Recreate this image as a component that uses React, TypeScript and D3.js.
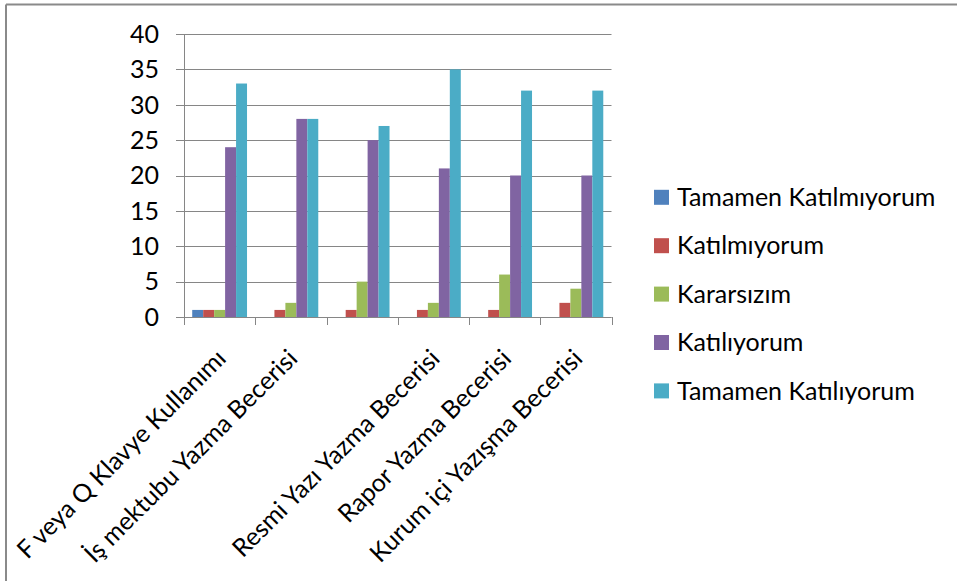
import React from "react";
import * as d3 from "d3";

const categories = [
  "F veya Q Klavye Kullanımı",
  "İş mektubu Yazma Becerisi",
  "",
  "Resmi Yazı Yazma Becerisi",
  "Rapor Yazma Becerisi",
  "Kurum içi Yazışma Becerisi",
];
const seriesNames = [
  "Tamamen Katılmıyorum",
  "Katılmıyorum",
  "Kararsızım",
  "Katılıyorum",
  "Tamamen Katılıyorum",
];
const seriesColors = ["#4F81BD", "#C0504D", "#9BBB59", "#8064A2", "#4BACC6"];
const tamamenKatilmiyorum = [1, 0, 0, 0, 0, 0];
const katilmiyorum = [1, 1, 1, 1, 1, 2];
const kararsizim = [1, 2, 5, 2, 6, 4];
const katiliyorum = [24, 28, 25, 21, 20, 20];
const tamamenKatiliyorum = [33, 28, 27, 35, 32, 32];
const seriesValues = [tamamenKatilmiyorum, katilmiyorum, kararsizim, katiliyorum, tamamenKatiliyorum];
const yTicks = [0, 5, 10, 15, 20, 25, 30, 35, 40];

const W = 957;
const H = 581;
const FONT = "Lato, 'Open Sans', sans-serif";
const FS = 25;

export default function App() {
  const plotL = 184, plotR = 611.5, plotT = 34, plotB = 317;
  const x0 = d3.scaleBand<string>().domain(categories.map((_, i) => String(i))).range([plotL, plotR]).padding(0);
  const x1 = d3.scaleBand<string>().domain(seriesNames).range([0, x0.bandwidth()]).paddingInner(0).paddingOuter(0.75);
  const y = d3.scaleLinear().domain([0, 40]).range([plotB, plotT]);
  const grid = "#868686";
  const boundaries = d3.range(categories.length + 1).map((i) => plotL + i * x0.step());

  return (
    <div style={{ position: "absolute", left: 0, top: 0 }}>
      <svg width={W} height={H} style={{ display: "block", background: "#fff" }}>
        <rect x={0} y={0} width={W} height={H} fill="#fff" />
        {/* outer border */}
        <line x1={6} y1={4.5} x2={W} y2={4.5} stroke="#8a8a8a" strokeWidth={2} />
        <line x1={6} y1={4.5} x2={6} y2={H} stroke="#8a8a8a" strokeWidth={2} />
        {/* gridlines */}
        {yTicks.map((t) => (
          <line key={"g" + t} x1={plotL - 8} x2={plotR} y1={Math.round(y(t)) + 0.5} y2={Math.round(y(t)) + 0.5} stroke={grid} strokeWidth={1} />
        ))}
        {/* y tick labels */}
        {yTicks.map((t) => (
          <text key={"yl" + t} x={159} y={y(t)} dy="0.35em" textAnchor="end" fontFamily={FONT} fontSize={FS} fill="#000">
            {t}
          </text>
        ))}
        {/* bars */}
        {categories.map((c, ci) => (
          <g key={"c" + ci} transform={`translate(${x0(String(ci))},0)`}>
            {seriesNames.map((s, si) => {
              const v = seriesValues[si][ci];
              if (!v) return null;
              return (
                <rect key={s} x={x1(s)} y={y(v)} width={x1.bandwidth()} height={y(0) - y(v)} fill={seriesColors[si]} />
              );
            })}
          </g>
        ))}
        {/* axes */}
        <line x1={plotL + 0.5} x2={plotL + 0.5} y1={plotT} y2={plotB} stroke={grid} strokeWidth={1} />
        <line x1={plotL} x2={plotR} y1={Math.round(plotB) + 0.5} y2={Math.round(plotB) + 0.5} stroke={grid} strokeWidth={1} />
        {boundaries.map((bx, i) => (
          <line key={"xt" + i} x1={Math.round(bx) + 0.5} x2={Math.round(bx) + 0.5} y1={plotB} y2={plotB + 8} stroke={grid} strokeWidth={1} />
        ))}
        {/* x labels */}
        {categories.map((c, ci) => {
          const cx = (x0(String(ci)) as number) + x0.bandwidth() / 2;
          return (
            <text key={"xl" + ci} transform={`translate(${cx + 8},360) rotate(-45)`} textAnchor="end" fontFamily={FONT} fontSize={FS} fill="#000">
              {c}
            </text>
          );
        })}
        {/* legend */}
        {seriesNames.map((s, si) => {
          const cy = 197.3 + si * 48.4;
          return (
            <g key={"lg" + s}>
              <rect x={654} y={cy - 7.5} width={15} height={15} fill={seriesColors[si]} />
              <text x={677} y={cy} dy="0.35em" fontFamily={FONT} fontSize={FS} fill="#000">
                {s}
              </text>
            </g>
          );
        })}
      </svg>
    </div>
  );
}
